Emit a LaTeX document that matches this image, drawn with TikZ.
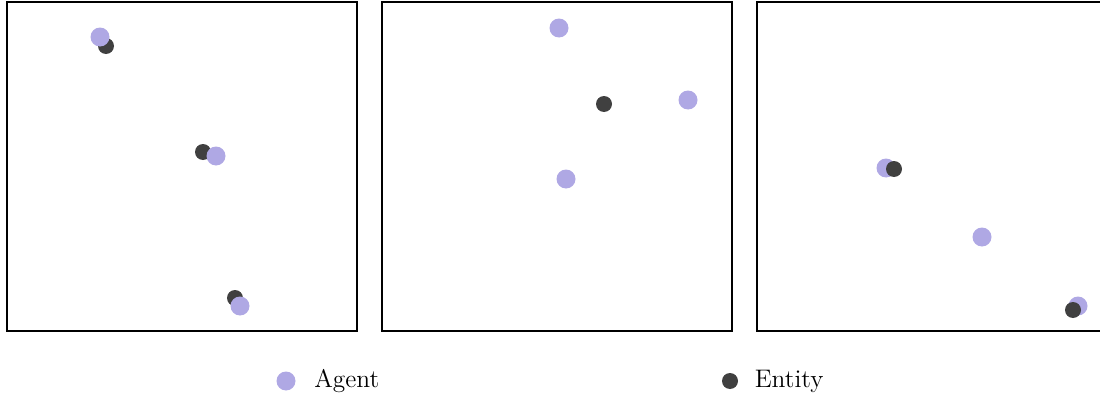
\documentclass[tikz,border=0pt]{standalone}
\usepackage{xcolor}
\usepackage{tikz}
\usetikzlibrary{positioning}

\definecolor{agentcol}{RGB}{175,168,228}
\definecolor{entitycol}{RGB}{64,64,64}

\begin{document}
\begin{tikzpicture}[x=0.5pt,y=-0.5pt,
    agent/.style={circle,fill=agentcol,inner sep=0pt,minimum size=9.5pt},
    entity/.style={circle,fill=entitycol,inner sep=0pt,minimum size=8pt},
    panel/.style={draw=black,line width=1pt},
    legtext/.style={font=\fontsize{12.7}{15}\selectfont,anchor=west,inner sep=0pt}]
    \clip (0,0) rectangle (1100,396);
    \begin{scope}[xshift=3.5pt,yshift=-1pt]
      \draw[panel] (0,0) rectangle (350,329);
      \node[entity] (e11) at (99,44) {};
      \node[agent] (a11) at (93,35) {};
      \node[entity] (e12) at (196,150) {};
      \node[agent] (a12) at (209,154) {};
      \node[entity] (e13) at (228,296) {};
      \node[agent] (a13) at (233,304) {};
    \end{scope}
    \begin{scope}[xshift=191pt,yshift=-1pt]
      \draw[panel] (0,0) rectangle (350,329);
      \node[agent] (a21) at (177,26) {};
      \node[entity] (e21) at (222,102) {};
      \node[agent] (a22) at (306,98) {};
      \node[agent] (a23) at (184,177) {};
    \end{scope}
    \begin{scope}[xshift=378.5pt,yshift=-1pt]
      \draw[panel] (0,0) rectangle (350,329);
      \node[agent] (a31) at (129,166) {};
      \node[entity] (e31) at (137,167) {};
      \node[agent] (a32) at (225,235) {};
      \node[agent] (a33) at (321,304) {};
      \node[entity] (e32) at (316,308) {};
    \end{scope}
    % legend
    \node[agent] (legagent) at (286,381) {};
    \node[legtext,right=9pt of legagent] (legagenttxt) {Agent};
    \node[entity] (legentity) at (730,381) {};
    \node[legtext,right=8pt of legentity] (legentitytxt) {Entity};
\end{tikzpicture}
\end{document}
